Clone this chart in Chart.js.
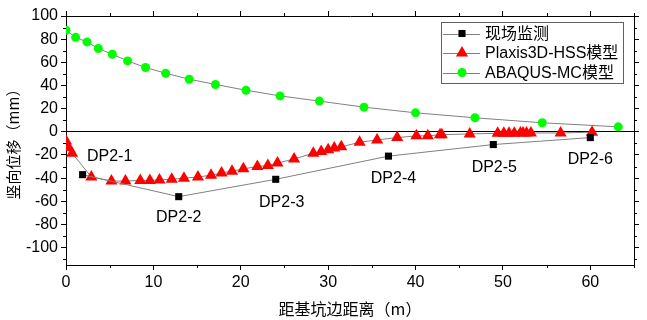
<!DOCTYPE html>
<html>
<head>
<meta charset="utf-8">
<script src="https://cdn.jsdelivr.net/npm/chart.js@4/dist/chart.umd.min.js"></script>
<style>
  html, body { margin: 0; padding: 0; background: #fff; }
  #wrap { width: 647px; height: 320px; position: relative; }
</style>
</head>
<body>
<div id="wrap"><canvas id="chart"></canvas></div>
<script>
// ----------------- DATA -----------------
const xTicks = [0, 10, 20, 30, 40, 50, 60];
const yTicks = [-100, -80, -60, -40, -20, 0, 20, 40, 60, 80, 100];

const seriesNames = ["现场监测", "Plaxis3D-HSS模型", "ABAQUS-MC模型"];

const monitorX = [1.9, 12.9, 24.0, 36.9, 48.9, 60.0];
const monitorY = [-37, -56, -41, -21, -11, -5];
const monitorLabels = ["DP2-1", "DP2-2", "DP2-3", "DP2-4", "DP2-5", "DP2-6"];

const plaxisX = [0, 0.3, 0.7, 2.9, 5.2, 6.8, 8.5, 9.6, 10.7, 12.1, 13.5, 15.1, 16.6, 17.8, 19.0, 20.3,
                 21.9, 23.1, 24.2, 26.1, 28.3, 29.2, 30.0, 30.7, 31.5, 33.6, 35.6, 37.9, 40.1, 41.4,
                 42.8, 43.0, 46.2, 49.4, 50.1, 50.7, 51.3, 52.0, 52.3, 52.7, 53.2, 56.6, 60.2];
const plaxisY = [-8, -13.5, -18.5, -39, -42.5, -42.5, -42, -42, -41.5, -41, -40, -39, -37.5, -35.5, -34, -32,
                 -30, -29, -27, -23.5, -18.5, -17, -15.5, -14, -13, -9, -7, -5, -3.5, -3.5,
                 -2.5, -2.5, -1.8, -1.3, -1.3, -1.2, -1.2, -1.1, -1.1, -1.0, -1.0, -1.0, -0.3];

const abaqusX = [0, 1.1, 2.4, 3.7, 5.3, 7.05, 9.1, 11.4, 14.1, 17.1, 20.6, 24.5, 29.0, 34.1, 40.0, 46.8, 54.5, 63.2];
const abaqusY = [87.7, 81.6, 77.6, 71.9, 67, 61.2, 55.5, 50.6, 45.4, 40.9, 35.9, 31, 26.5, 21.3, 16.4, 12.1, 7.8, 4.3];

// ----------------- STYLE -----------------
const FONT = "'Liberation Sans', Arial, 'Noto Sans CJK SC', sans-serif";
const CJK_FONT = "'Noto Sans CJK SC', 'Liberation Sans', sans-serif";
const LINE_GRAY = "#808080";
// label offsets (pixels) relative to each monitoring point: [dx of label centre, dy of label centre]
const labelOffsets = [[27, -18], [0, 21], [6, 23], [5, 22], [1, 23], [0, 22]];

function toPoints(xs, ys) {
    return xs.map((x, i) => ({ x: x, y: ys[i] }));
}

// ----------------- PLUGINS -----------------
const minorTicks = {
    id: "minorTicks",
    afterDraw(chart) {
        const ctx = chart.ctx;
        const a = chart.chartArea;
        const sx = chart.scales.x, sy = chart.scales.y;
        ctx.save();
        ctx.strokeStyle = "#000";
        ctx.lineWidth = 1;
        ctx.beginPath();
        for (let v = 5; v <= 65; v += 10) {
            const px = Math.round(sx.getPixelForValue(v)) + 0.5;
            ctx.moveTo(px, a.bottom); ctx.lineTo(px, a.bottom + 3);
            ctx.moveTo(px, a.top); ctx.lineTo(px, a.top - 3);
        }
        for (let v = -110; v <= 90; v += 20) {
            const py = Math.round(sy.getPixelForValue(v)) + 0.5;
            ctx.moveTo(a.left, py); ctx.lineTo(a.left - 3, py);
            ctx.moveTo(a.right, py); ctx.lineTo(a.right + 3, py);
        }
        ctx.stroke();
        ctx.restore();
    }
};

const pointLabels = {
    id: "pointLabels",
    afterDatasetsDraw(chart) {
        const ctx = chart.ctx;
        const meta = chart.getDatasetMeta(0);
        ctx.save();
        ctx.font = "16px " + FONT;
        ctx.fillStyle = "#000";
        ctx.textAlign = "center";
        ctx.textBaseline = "middle";
        meta.data.forEach((pt, i) => {
            const off = labelOffsets[i];
            ctx.fillText(monitorLabels[i], pt.x + off[0], pt.y + off[1]);
        });
        ctx.restore();
    }
};

function drawMarker(ctx, style, x, y, r, color) {
    ctx.fillStyle = color;
    ctx.beginPath();
    if (style === "rect") {
        const s = r * Math.SQRT1_2;
        ctx.rect(x - s, y - s, 2 * s, 2 * s);
    } else if (style === "triangle") {
        ctx.moveTo(x, y - r);
        ctx.lineTo(x + r * Math.sin(2 * Math.PI / 3), y - r * Math.cos(2 * Math.PI / 3));
        ctx.lineTo(x + r * Math.sin(4 * Math.PI / 3), y - r * Math.cos(4 * Math.PI / 3));
        ctx.closePath();
    } else {
        ctx.arc(x, y, r, 0, Math.PI * 2);
    }
    ctx.fill();
}

const boxLegend = {
    id: "boxLegend",
    afterDraw(chart) {
        const ctx = chart.ctx;
        const bx = 441, by = 22, bw = 182, bh = 61;
        ctx.save();
        ctx.fillStyle = "#fff";
        ctx.fillRect(bx, by, bw, bh);
        ctx.strokeStyle = "#606060";
        ctx.lineWidth = 1;
        ctx.strokeRect(bx + 0.5, by + 0.5, bw, bh);
        chart.data.datasets.forEach((ds, i) => {
            const y = by + 11.5 + i * 19.5;
            ctx.strokeStyle = LINE_GRAY;
            ctx.beginPath();
            ctx.moveTo(bx + 2, Math.round(y) + 0.5);
            ctx.lineTo(bx + 39, Math.round(y) + 0.5);
            ctx.stroke();
            drawMarker(ctx, ds.pointStyle, bx + 21, y, ds.pointRadius, ds.pointBackgroundColor);
            ctx.fillStyle = "#000";
            ctx.font = "16px " + FONT;
            ctx.textAlign = "left";
            ctx.textBaseline = "middle";
            ctx.fillText(ds.label, bx + 44, y + 1);
        });
        ctx.restore();
    }
};

// ----------------- CHART -----------------
function makeAxis(pos, min, max, ticks, showLabels, extra) {
    return Object.assign({
        type: "linear",
        position: pos,
        min: min,
        max: max,
        afterBuildTicks: s => { s.ticks = ticks.map(v => ({ value: v })); },
        border: { display: true, color: "#000", width: 1 },
        grid: { drawOnChartArea: false, drawTicks: true, tickLength: 5, tickColor: "#000" },
        ticks: {
            display: showLabels,
            color: "#000",
            padding: 3,
            font: { family: FONT, size: 16 }
        }
    }, extra || {});
}

const ctx = document.getElementById("chart").getContext("2d");
const chart = new Chart(ctx, {
    type: "scatter",
    data: {
        datasets: [
            {
                label: seriesNames[0],
                data: toPoints(monitorX, monitorY),
                showLine: true,
                borderColor: LINE_GRAY,
                borderWidth: 1,
                pointStyle: "rect",
                pointRadius: 5,
                pointBackgroundColor: "#000",
                pointBorderWidth: 0,
                order: 1
            },
            {
                label: seriesNames[1],
                data: toPoints(plaxisX, plaxisY),
                showLine: true,
                borderColor: LINE_GRAY,
                borderWidth: 1,
                pointStyle: "triangle",
                pointRadius: 7,
                pointBackgroundColor: "#ff0000",
                pointBorderWidth: 0,
                order: 2
            },
            {
                label: seriesNames[2],
                data: toPoints(abaqusX, abaqusY),
                showLine: true,
                borderColor: LINE_GRAY,
                borderWidth: 1,
                pointStyle: "circle",
                pointRadius: 4.5,
                pointBackgroundColor: "#00ff00",
                pointBorderWidth: 0,
                order: 3
            }
        ]
    },
    options: {
        responsive: true,
        maintainAspectRatio: false,
        animation: false,
        layout: { padding: 0 },
        plugins: { legend: { display: false }, tooltip: { enabled: false } },
        scales: {
            x: makeAxis("bottom", 0, 65, xTicks, true, {
                title: { display: true, text: "距基坑边距离（m）", color: "#000",
                         font: { family: CJK_FONT, size: 16 }, padding: { top: 4, bottom: 1 } },
                afterFit: s => { s.height = 55; }
            }),
            x2: makeAxis("top", 0, 65, xTicks, false, {
                afterFit: s => { s.height = 16; }
            }),
            y: makeAxis("left", -115, 100, yTicks, true, {
                title: { display: true, text: "竖向位移（mm）", color: "#000",
                         font: { family: CJK_FONT, size: 15 }, padding: { top: 4, bottom: 2 } },
                grid: {
                    drawOnChartArea: true, drawTicks: true, tickLength: 5, tickColor: "#000",
                    color: c => (c.tick && c.tick.value === 0) ? "#000" : "rgba(0,0,0,0)"
                },
                afterFit: s => { s.width = 66; }
            }),
            y2: makeAxis("right", -115, 100, yTicks, false, {
                afterFit: s => { s.width = 13; }
            })
        }
    },
    plugins: [minorTicks, pointLabels, boxLegend]
});
</script>
</body>
</html>
